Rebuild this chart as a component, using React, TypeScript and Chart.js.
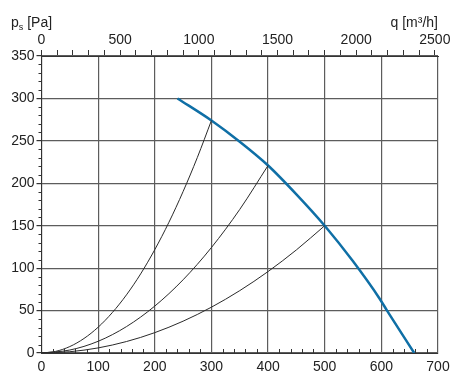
import React, { useEffect, useRef } from "react";
import { Chart, registerables } from "chart.js";

Chart.register(...registerables);

// Air flow (l/s) tick values (bottom axis)
const lpsTicks = [0, 100, 200, 300, 400, 500, 600, 700];
// Air flow (m³/h) tick labels (top axis)
const qTicks = [0, 500, 1000, 1500, 2000, 2500];
// Pressure tick values (left axis)
const paTicks = [0, 50, 100, 150, 200, 250, 300, 350];

// Fan curve
const fanX = [240, 300, 350, 400, 450, 500, 550, 597, 610, 658];
const fanY = [300, 274, 249, 221, 187, 150, 108, 64, 50, 0];

// System curves
const sys1X = [0, 25, 50, 75, 100, 125, 150, 175, 200, 225, 250, 275, 300];
const sys1Y = [0, 1.9, 7.6, 17.1, 30.4, 47.6, 68.5, 93.2, 121.8, 154.1, 190.3, 230.2, 274];
const sys2X = [0, 50, 100, 150, 200, 250, 300, 350, 400];
const sys2Y = [0, 3.5, 13.8, 31.1, 55.3, 86.3, 124.3, 169.2, 221];
const sys3X = [0, 50, 100, 150, 200, 250, 300, 350, 400, 450, 500];
const sys3Y = [0, 1.5, 6, 13.5, 24, 37.5, 54, 73.5, 96, 121.5, 150];

const FONT = "'Liberation Sans', Arial, sans-serif";
const TEXT = "#222";
const GRID = "#5c5c5c";

const toPts = (xs: number[], ys: number[]) => xs.map((x, i) => ({ x, y: ys[i] }));

const overlayPlugin = {
  id: "overlay",
  afterDraw(chart: any) {
    const ctx = chart.ctx;
    const { left, bottom } = chart.chartArea;
    const xs = chart.scales.x;
    const ys = chart.scales.y;
    ctx.save();
    ctx.strokeStyle = "#333";
    ctx.lineWidth = 1;
    ctx.beginPath();
    // left minor ticks every 10
    for (let v = 0; v <= 350; v += 10) {
      if (v % 50 === 0) continue;
      const py = Math.round(ys.getPixelForValue(v)) + 0.5;
      ctx.moveTo(left - 3, py);
      ctx.lineTo(left, py);
    }
    // bottom minor ticks every 20, inside
    for (let v = 0; v <= 700; v += 20) {
      if (v % 100 === 0) continue;
      const px = Math.round(xs.getPixelForValue(v)) + 0.5;
      ctx.moveTo(px, bottom);
      ctx.lineTo(px, bottom - 4);
    }
    ctx.stroke();

    // axis titles
    ctx.fillStyle = TEXT;
    ctx.textBaseline = "middle";
    ctx.textAlign = "left";
    ctx.font = `14px ${FONT}`;
    let x0 = 11;
    ctx.fillText("p", x0, 23);
    x0 += ctx.measureText("p").width;
    ctx.font = `9px ${FONT}`;
    ctx.fillText("s", x0, 28);
    x0 += ctx.measureText("s").width;
    ctx.font = `14px ${FONT}`;
    ctx.fillText(" [Pa]", x0, 23);
    ctx.textAlign = "right";
    ctx.fillText("q [m³/h]", 438, 23);
    ctx.restore();
  },
};

export default function App() {
  const ref = useRef<HTMLCanvasElement | null>(null);
  useEffect(() => {
    if (!ref.current) return;
    const tickFont = { family: FONT, size: 14 };
    const chart = new Chart(ref.current, {
      type: "scatter",
      data: {
        datasets: [
          {
            data: toPts(sys1X, sys1Y),
            showLine: true,
            borderColor: "#2a2a2a",
            borderWidth: 1,
            pointRadius: 0,
            cubicInterpolationMode: "monotone",
          },
          {
            data: toPts(sys2X, sys2Y),
            showLine: true,
            borderColor: "#2a2a2a",
            borderWidth: 1,
            pointRadius: 0,
            cubicInterpolationMode: "monotone",
          },
          {
            data: toPts(sys3X, sys3Y),
            showLine: true,
            borderColor: "#2a2a2a",
            borderWidth: 1,
            pointRadius: 0,
            cubicInterpolationMode: "monotone",
          },
          {
            data: toPts(fanX, fanY),
            showLine: true,
            borderColor: "#0f6fa6",
            borderWidth: 2.5,
            pointRadius: 0,
            cubicInterpolationMode: "monotone",
          },
        ],
      },
      options: {
        animation: false,
        responsive: false,
        layout: { padding: { left: 0, right: 38, top: 0, bottom: 0 } },
        plugins: { legend: { display: false }, tooltip: { enabled: false } },
        scales: {
          x: {
            type: "linear",
            position: "bottom",
            min: 0,
            max: 700,
            afterBuildTicks: (s: any) => {
              s.ticks = lpsTicks.map((v) => ({ value: v }));
            },
            ticks: { color: TEXT, font: tickFont, padding: 6, maxRotation: 0, autoSkip: false },
            grid: { color: GRID, lineWidth: 1.2, drawTicks: false },
            border: { color: "#333" },
            afterFit: (s: any) => {
              s.height = 24;
            },
          },
          x2: {
            type: "linear",
            position: "top",
            min: 0,
            max: 2520,
            afterBuildTicks: (s: any) => {
              const t: any[] = [];
              for (let v = 0; v <= qTicks[qTicks.length - 1]; v += 100) t.push({ value: v });
              s.ticks = t;
            },
            ticks: {
              color: TEXT,
              font: tickFont,
              padding: 1,
              maxRotation: 0,
              autoSkip: false,
              callback: (v: any) => (qTicks.includes(Number(v)) ? String(v) : ""),
            },
            grid: { drawOnChartArea: false, tickLength: 6, color: "#333" },
            border: { color: "#333" },
            afterFit: (s: any) => {
              s.height = 56;
            },
          },
          y: {
            type: "linear",
            min: 0,
            max: 350,
            afterBuildTicks: (s: any) => {
              s.ticks = paTicks.map((v) => ({ value: v }));
            },
            ticks: { color: TEXT, font: tickFont, padding: 2 },
            grid: { color: GRID, lineWidth: 1.2, tickLength: 5, tickColor: "#333" },
            border: { color: "#333" },
            afterFit: (s: any) => {
              s.width = 41.5;
            },
          },
        },
      },
      plugins: [overlayPlugin],
    } as any);
    return () => chart.destroy();
  }, []);
  return (
    <div style={{ position: "absolute", left: 0, top: 0, width: 476, height: 377, background: "#fff" }}>
      <canvas ref={ref} width={476} height={377} />
    </div>
  );
}
